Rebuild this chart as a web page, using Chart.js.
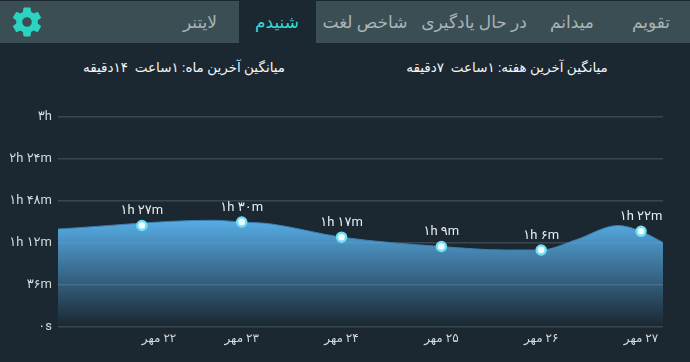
<!DOCTYPE html>
<html>
<head>
<meta charset="utf-8">
<script src="https://cdn.jsdelivr.net/npm/chart.js@4"></script>
<style>
  html, body { margin: 0; padding: 0; background: #1b2731; }
  #page { position: relative; width: 690px; height: 362px; overflow: hidden; font-family: Roboto, "DejaVu Sans", sans-serif; }
  #bar { position: absolute; left: 0; top: 1px; width: 690px; height: 42px; background: #3a4e54; }
  #current { position: absolute; left: 239px; top: 0; width: 77px; height: 44px; background: #1b2731; }
  .tab { position: absolute; top: 10px; transform: translateX(-50%); color: #aab4b6; font-size: 17px; line-height: 24px; white-space: nowrap; direction: rtl; }
  .avg { position: absolute; top: 57px; transform: translateX(-50%); color: #f2f4f5; font-size: 13.5px; line-height: 20px; white-space: pre; direction: rtl; }
  #gear { position: absolute; left: 9px; top: 4px; }
  canvas { position: absolute; left: 0; top: 0; }
</style>
</head>
<body>
<div id="page">
  <div id="bar"></div>
  <div id="current"></div>
  <div id="tabs"></div>
  <div id="avgs"></div>
  <svg id="gear" width="36" height="36" viewBox="0 0 24 24"><path fill="#2bd4c1" d="M19.14 12.94c.04-.3.06-.61.06-.94s-.02-.64-.07-.94l2.03-1.58a.49.49 0 0 0 .12-.61l-1.92-3.32a.49.49 0 0 0-.59-.22l-2.39.96a7 7 0 0 0-1.62-.94l-.36-2.54a.48.48 0 0 0-.48-.41h-3.84a.48.48 0 0 0-.47.41l-.36 2.54c-.59.24-1.13.57-1.62.94l-2.39-.96a.49.49 0 0 0-.59.22L2.73 8.87a.48.48 0 0 0 .12.61l2.03 1.58c-.05.3-.08.63-.08.94s.02.64.07.94l-2.03 1.58a.49.49 0 0 0-.12.61l1.92 3.32c.12.22.37.29.59.22l2.39-.96c.5.38 1.03.7 1.62.94l.36 2.54c.05.24.24.41.48.41h3.84c.24 0 .44-.17.47-.41l.36-2.54c.59-.24 1.13-.56 1.62-.94l2.39.96c.22.08.47 0 .59-.22l1.92-3.32a.48.48 0 0 0-.12-.61zM12 15.2A3.2 3.2 0 1 1 12 8.8a3.2 3.2 0 0 1 0 6.4z"/></svg>
  <canvas id="chart" width="690" height="362"></canvas>
</div>
<script>
const tabNames = ['لایتنر', 'شنیدم', 'شاخص لغت', 'در حال یادگیری', 'میدانم', 'تقویم'];
const tabCenters = [200, 277, 365, 474, 572, 651];
const averages = ['میانگین آخرین ماه: ۱ساعت  ۱۴دقیقه', 'میانگین آخرین هفته: ۱ساعت  ۷دقیقه'];
const averageCenters = [184, 507];

const days = ['\u2067۲۲ مهر\u2069', '\u2067۲۳ مهر\u2069', '\u2067۲۴ مهر\u2069', '\u2067۲۵ مهر\u2069', '\u2067۲۶ مهر\u2069', '\u2067۲۷ مهر\u2069'];
const minutes = [87, 90, 77, 69, 66, 82];
const minuteLabels = ['۱h ۲۷m', '۱h ۳۰m', '۱h ۱۷m', '۱h ۹m', '۱h ۶m', '۱h ۲۲m'];
const yTickLabels = ['۰s', '۳۶m', '۱h ۱۲m', '۱h ۴۸m', '۲h ۲۴m', '۳h'];

// area outline, x is in days from the first point
const curveX = [-0.84, 0.71, 1, 1.28, 2, 3, 3.64, 4, 4.34, 4.77, 5, 5.22];
const curveY = [84, 91.5, 90, 88.5, 77, 69, 66, 66, 74.5, 87, 82, 72.5];

const activeColor = '#35dcd0';

tabNames.forEach((name, i) => {
  const el = document.createElement('div');
  el.className = 'tab';
  el.textContent = name;
  el.style.left = tabCenters[i] + 'px';
  if (i === 1) el.style.color = activeColor;
  document.getElementById('tabs').appendChild(el);
});
averages.forEach((text, i) => {
  const el = document.createElement('div');
  el.className = 'avg';
  el.textContent = text;
  el.style.left = averageCenters[i] + 'px';
  document.getElementById('avgs').appendChild(el);
});

// value labels above the markers
const valueLabels = {
  id: 'valueLabels',
  afterDatasetsDraw(chart) {
    const { ctx } = chart;
    const points = chart.getDatasetMeta(1).data;
    ctx.save();
    ctx.font = '13px Roboto, "DejaVu Sans", sans-serif';
    ctx.fillStyle = '#e9edef';
    ctx.textAlign = 'center';
    ctx.textBaseline = 'middle';
    points.forEach((p, i) => ctx.fillText(minuteLabels[i], p.x, p.y - 14.5));
    ctx.restore();
  }
};

const ctx = document.getElementById('chart').getContext('2d');
new Chart(ctx, {
  type: 'line',
  data: {
    datasets: [
      {
        order: 2,
        data: curveX.map((x, i) => ({ x, y: curveY[i] })),
        cubicInterpolationMode: 'monotone',
        borderColor: '#3c7fae',
        borderWidth: 1,
        pointRadius: 0,
        fill: 'start',
        backgroundColor(context) {
          const area = context.chart.chartArea;
          if (!area) return 'transparent';
          const g = context.chart.ctx.createLinearGradient(0, area.bottom - 108, 0, area.bottom);
          g.addColorStop(0, 'rgba(88, 174, 232, 1)');
          g.addColorStop(1, 'rgba(88, 174, 232, 0)');
          return g;
        }
      },
      {
        order: 1,
        data: minutes.map((y, i) => ({ x: i, y })),
        showLine: false,
        pointRadius: 4.5,
        pointBorderWidth: 2.5,
        pointBackgroundColor: '#effdff',
        pointBorderColor: '#72dff5'
      }
    ]
  },
  plugins: [valueLabels],
  options: {
    responsive: false,
    animation: false,
    layout: { padding: { top: 117, right: 27, bottom: 0, left: 0 } },
    plugins: { legend: { display: false }, tooltip: { enabled: false } },
    scales: {
      x: {
        type: 'linear',
        min: curveX[0],
        max: curveX[curveX.length - 1],
        afterFit(scale) { scale.height = 35; },
        // an empty last tick makes 'inner' left-align only the first date
        afterBuildTicks(scale) {
          scale.ticks = days.map((_, i) => ({ value: i })).concat({ value: scale.max });
        },
        afterTickToLabelConversion(scale) {
          scale.ticks.forEach((t, i) => { t.label = days[i] || ''; });
        },
        grid: { display: false, drawTicks: false },
        border: { display: false },
        ticks: {
          align: 'inner',
          autoSkip: false,
          maxRotation: 0,
          padding: 5,
          color: '#d5dadd',
          font: { family: 'Roboto, "DejaVu Sans", sans-serif', size: 12 }
        }
      },
      y: {
        min: 0,
        max: 180,
        afterFit(scale) { scale.width = 58; },
        grid: { color: '#3a4750', lineWidth: 1.5, drawTicks: false },
        border: { display: false },
        ticks: {
          stepSize: 36,
          padding: 6,
          color: '#d5dadd',
          font: { family: 'Roboto, "DejaVu Sans", sans-serif', size: 13 },
          callback: (v) => yTickLabels[v / 36]
        }
      }
    }
  }
});
</script>
</body>
</html>
